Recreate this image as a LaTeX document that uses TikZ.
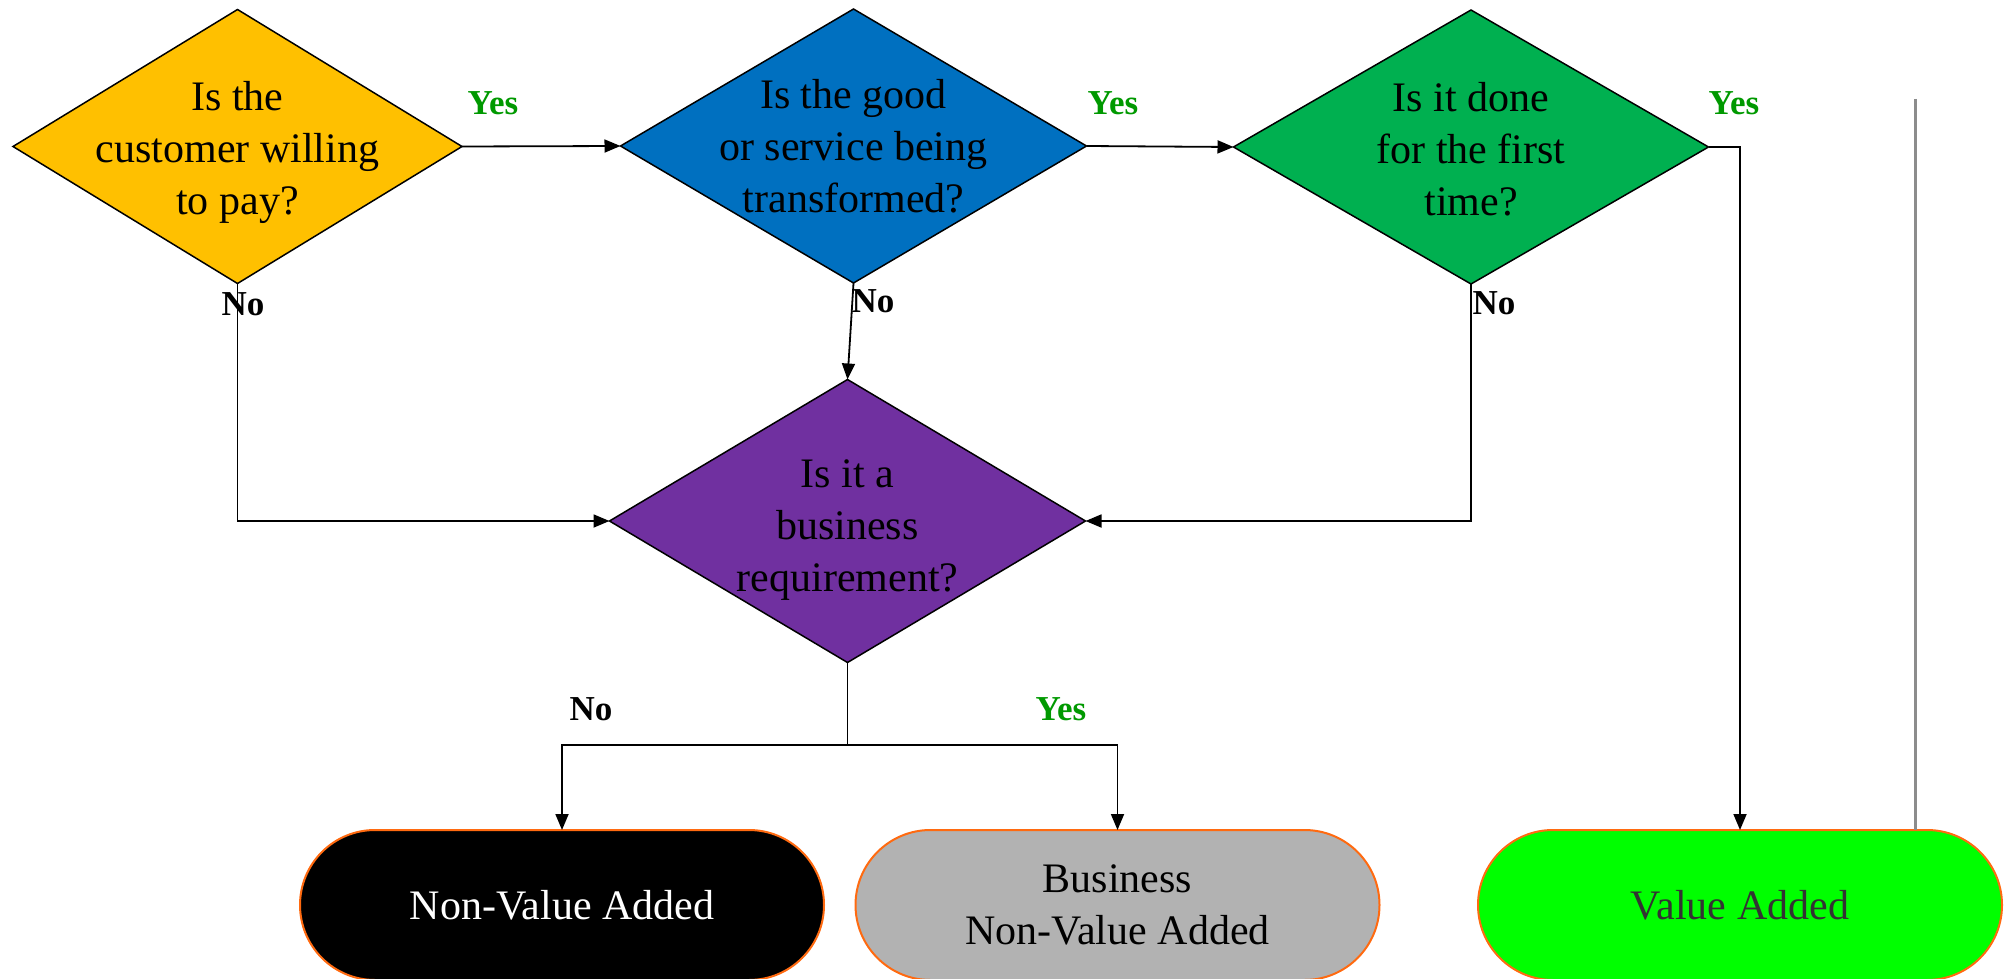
\documentclass[tikz,border=0pt]{standalone}
\usepackage{fontspec}
\setmainfont{Liberation Serif}
\usetikzlibrary{shapes.geometric,arrows.meta}
\definecolor{cyellow}{HTML}{FFC000}
\definecolor{cblue}{HTML}{0070C0}
\definecolor{cgreen}{HTML}{00B050}
\definecolor{cpurple}{HTML}{7030A0}
\definecolor{cgray}{HTML}{B2B2B2}
\definecolor{clime}{HTML}{00FF00}
\definecolor{termorange}{HTML}{FF6A10}
\definecolor{yesgreen}{HTML}{009900}
\definecolor{sepgray}{HTML}{8C8C8C}
\definecolor{darktext}{HTML}{333333}
\begin{document}
\begin{tikzpicture}[x=1pt,y=-1pt,
  dia/.style={diamond, draw=black, line width=1.5pt, inner sep=0pt, outer sep=0pt},
  qtext/.style={align=center, font=\fontsize{42}{52}\selectfont, text=black, inner sep=0pt},
  term/.style={rectangle, rounded corners=75pt, draw=termorange, line width=2pt,
    minimum width=524pt, minimum height=150pt, inner sep=0pt, outer sep=0pt,
    align=center, font=\fontsize{42}{52}\selectfont},
  conn/.style={draw=black, line width=1.8pt, -{Triangle[length=16pt,width=13pt]}},
  plain/.style={draw=black, line width=1.8pt},
  yeslbl/.style={font=\bfseries\fontsize{35}{40}\selectfont, text=yesgreen, inner sep=0pt},
  nolbl/.style={font=\bfseries\fontsize{35}{40}\selectfont, text=black, inner sep=0pt}]
\useasboundingbox (0,0) rectangle (2013,979);

% decision diamonds
\node[dia, fill=cyellow, minimum width=449pt, minimum height=274pt] (d1) at (237.5,146.5) {};
\node[dia, fill=cblue, minimum width=466pt, minimum height=274pt] (d2) at (853.5,146) {};
\node[dia, fill=cgreen, minimum width=475pt, minimum height=274pt] (d3) at (1471,147) {};
\node[dia, fill=cpurple, minimum width=476pt, minimum height=283pt] (d4) at (847.5,521) {};

\node[qtext, yshift=-6pt] (q1) at (d1) {Is the\\customer willing\\to pay?};
\node[qtext] (q2) at (d2) {Is the good\\or service being\\transformed?};
\node[qtext, yshift=-2pt] (q3) at (d3) {Is it done\\for the first\\time?};
\node[qtext, yshift=-9pt] (q4) at (d4) {Is it a\\business\\requirement?};

% terminators
\node[term, fill=black, text=white] (t1) at (562,905) {Non-Value Added};
\node[term, fill=cgray, text=black] (t2) at (1117.5,905) {\raisebox{-4pt}{\parbox{500pt}{\centering Business\\Non-Value Added}}};
\node[term, fill=clime, text=darktext] (t3) at (1740,905) {Value Added};

% separator line
\coordinate (gtop) at (1915,99);
\draw[sepgray, line width=3pt] (gtop) -- (gtop |- t3.north);

% connectors
\draw[conn] (d1.east) -- (d2.west);
\draw[conn] (d2.east) -- (d3.west);
\draw[conn] (d3.east) -| (t3.north);
\draw[conn] (d1.south) |- (d4.west);
\draw[conn] (d2.south) -- (d4.north);
\draw[conn] (d3.south) |- (d4.east);
\coordinate (split) at (847.5,745);
\draw[plain] (d4.south) -- (split);
\draw[conn] (split) -| (t1.north);
\draw[conn] (split) -| (t2.north);

% labels
\node[yeslbl] (y1) at (493,103) {Yes};
\node[yeslbl] (y2) at (1113,103) {Yes};
\node[yeslbl] (y3) at (1734,103) {Yes};
\node[yeslbl] (y4) at (1061,709) {Yes};
\node[nolbl] (n1) at (243,304) {No};
\node[nolbl] (n2) at (873,301) {No};
\node[nolbl] (n3) at (1494,303) {No};
\node[nolbl] (n4) at (591,709) {No};
\end{tikzpicture}
\end{document}
